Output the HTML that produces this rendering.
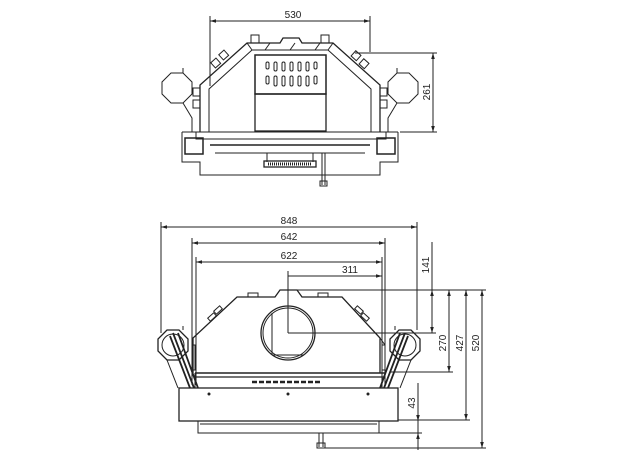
<!DOCTYPE html>
<html><head><meta charset="utf-8"><style>
html,body{margin:0;padding:0;background:#fff;}
svg{display:block;}
text{font-family:"Liberation Sans",sans-serif;font-size:10px;fill:#222;}
</style></head><body>
<svg width="624" height="460" viewBox="0 0 624 460" xmlns="http://www.w3.org/2000/svg">
<defs>
<marker id="a" viewBox="0 0 10 10" refX="10" refY="5" markerWidth="6" markerHeight="6" orient="auto-start-reverse"><path d="M0,2 L10,5 L0,8 z" fill="#222"/></marker>
</defs>
<g fill="none" stroke="#222" stroke-width="1">
<line x1="210" y1="21" x2="370" y2="21" marker-start="url(#a)" marker-end="url(#a)"/>
<line x1="210" y1="16" x2="210" y2="86"/>
<line x1="370" y1="16" x2="370" y2="52"/>
<line x1="433" y1="53" x2="433" y2="132" marker-start="url(#a)" marker-end="url(#a)"/>
<line x1="355" y1="53" x2="437" y2="53"/>
<line x1="400" y1="132" x2="437" y2="132"/>
<path d="M200,132 L200,85 L247,43 L280,43 L283,38 L299,38 L302,43 L333,43 L380,85 L380,132" stroke-width="1.3"/>
<path d="M209,132 L209,89 L252,50 L328,50 L371,89 L371,132"/>
<rect x="255" y="55" width="71" height="39" stroke-width="1.5"/>
<rect x="255" y="94" width="71" height="37" stroke-width="1.3"/>
<line x1="247" y1="43" x2="252" y2="50"/><line x1="333" y1="43" x2="328" y2="50"/>
<line x1="265" y1="50" x2="270" y2="43"/><line x1="290" y1="50" x2="295" y2="43"/><line x1="315" y1="50" x2="320" y2="43"/>
<rect x="251" y="35" width="8" height="8"/><rect x="321" y="35" width="8" height="8"/>
<rect x="220" y="52" width="7" height="7" transform="rotate(-42 223 55)"/>
<rect x="212" y="60" width="7" height="7" transform="rotate(-42 215 63)"/>
<rect x="353" y="52" width="7" height="7" transform="rotate(42 356 55)"/>
<rect x="361" y="60" width="7" height="7" transform="rotate(42 364 63)"/>
<rect x="193" y="88" width="7" height="8"/><rect x="193" y="100" width="7" height="8"/>
<rect x="380" y="88" width="7" height="8"/><rect x="380" y="100" width="7" height="8"/>
<polygon points="171,73 183,73 192,82 192,94 183,103 171,103 162,94 162,82"/>
<polygon points="397,73 409,73 418,82 418,94 409,103 397,103 388,94 388,82"/>
<path d="M183,103 L192,118 L192,132"/><path d="M397,103 L388,118 L388,132"/>
<line x1="183" y1="68" x2="183" y2="73"/><line x1="397" y1="68" x2="397" y2="73"/>
<path d="M182,132 L398,132"/>
<rect x="196" y="132" width="190" height="7"/>
<line x1="205" y1="139" x2="375" y2="139"/>
<line x1="210" y1="145" x2="370" y2="145" stroke-width="1.5"/>
<line x1="215" y1="153" x2="365" y2="153"/>
<path d="M182,132 L182,162 L200,162 L200,175 L380,175 L380,162 L398,162 L398,132"/>
<rect x="185" y="138" width="18" height="16" stroke-width="1.5"/>
<rect x="377" y="138" width="18" height="16" stroke-width="1.5"/>
<line x1="267" y1="153" x2="267" y2="162"/><line x1="313" y1="153" x2="313" y2="162"/>
<rect x="264" y="161" width="52" height="6" stroke-width="1.3"/>
<line x1="268" y1="164" x2="312" y2="164" stroke-dasharray="1 1" stroke-width="3"/>
<line x1="322" y1="153" x2="322" y2="185"/><line x1="325" y1="153" x2="325" y2="185"/>
<rect x="320" y="181" width="7" height="5"/>
<g stroke-width="1">
<rect x="266" y="62" width="3" height="7" rx="1.5"/><rect x="274" y="62" width="3" height="9" rx="1.5"/><rect x="282" y="62" width="3" height="9" rx="1.5"/><rect x="290" y="62" width="3" height="9" rx="1.5"/><rect x="298" y="62" width="3" height="9" rx="1.5"/><rect x="306" y="62" width="3" height="9" rx="1.5"/><rect x="314" y="62" width="3" height="7" rx="1.5"/>
<rect x="266" y="76" width="3" height="8" rx="1.5"/><rect x="274" y="76" width="3" height="10" rx="1.5"/><rect x="282" y="76" width="3" height="10" rx="1.5"/><rect x="290" y="76" width="3" height="10" rx="1.5"/><rect x="298" y="76" width="3" height="10" rx="1.5"/><rect x="306" y="76" width="3" height="10" rx="1.5"/><rect x="314" y="76" width="3" height="8" rx="1.5"/>
</g>
<line x1="161" y1="227" x2="417" y2="227" marker-start="url(#a)" marker-end="url(#a)"/>
<line x1="161" y1="222" x2="161" y2="333"/><line x1="417" y1="222" x2="417" y2="330"/>
<line x1="192" y1="243" x2="385" y2="243" marker-start="url(#a)" marker-end="url(#a)"/>
<line x1="192" y1="238" x2="192" y2="385"/><line x1="385" y1="238" x2="385" y2="385"/>
<line x1="196" y1="262" x2="382" y2="262" marker-start="url(#a)" marker-end="url(#a)"/>
<line x1="196" y1="257" x2="196" y2="385"/><line x1="382" y1="257" x2="382" y2="385"/>
<line x1="288" y1="276" x2="382" y2="276" marker-end="url(#a)"/>
<line x1="288" y1="271" x2="288" y2="333"/>
<line x1="432" y1="242" x2="432" y2="290"/>
<line x1="432" y1="290" x2="432" y2="333" marker-start="url(#a)" marker-end="url(#a)"/>
<line x1="449" y1="290" x2="449" y2="372" marker-start="url(#a)" marker-end="url(#a)"/>
<line x1="466" y1="290" x2="466" y2="420" marker-start="url(#a)" marker-end="url(#a)"/>
<line x1="482" y1="290" x2="482" y2="448" marker-start="url(#a)" marker-end="url(#a)"/>
<line x1="418" y1="383" x2="418" y2="450"/>
<line x1="418" y1="410" x2="418" y2="421" marker-end="url(#a)"/>
<line x1="418" y1="445" x2="418" y2="433" marker-end="url(#a)"/>
<line x1="297" y1="290" x2="486" y2="290"/>
<line x1="288" y1="333" x2="436" y2="333"/>
<line x1="390" y1="372" x2="453" y2="372"/>
<line x1="398" y1="420" x2="470" y2="420"/>
<line x1="379" y1="433" x2="422" y2="433"/>
<line x1="322" y1="448" x2="486" y2="448"/>
<path d="M193,373 L193,338 L237,297 L275,297 L280,290 L297,290 L302,297 L342,297 L380,338 L380,373" stroke-width="1.3"/>
<line x1="380" y1="338" x2="385" y2="345"/>
<circle cx="288" cy="333" r="27" stroke-width="1.3"/>
<circle cx="288" cy="333" r="25"/>
<line x1="272" y1="313" x2="272" y2="355"/><line x1="272" y1="355" x2="304" y2="355"/>
<rect x="248" y="293" width="10" height="4"/><rect x="318" y="293" width="10" height="4"/>
<rect x="208" y="315" width="8" height="4" transform="rotate(-42 212 317)"/>
<rect x="214" y="308" width="8" height="4" transform="rotate(-42 218 310)"/>
<rect x="355" y="308" width="8" height="4" transform="rotate(42 359 310)"/>
<rect x="361" y="315" width="8" height="4" transform="rotate(42 365 317)"/>
<rect x="192" y="345" width="3" height="25"/><rect x="382" y="345" width="3" height="25"/>
<line x1="195" y1="373" x2="385" y2="373" stroke-width="1.5"/>
<line x1="195" y1="377" x2="385" y2="377" stroke-width="1.3"/>
<line x1="195" y1="373" x2="195" y2="388"/><line x1="382" y1="373" x2="382" y2="388"/>
<polygon points="167,330 179,330 188,339 188,351 179,360 167,360 158,351 158,339" stroke-width="1.3"/>
<circle cx="173" cy="345" r="11"/>
<polygon points="399,330 411,330 420,339 420,351 411,360 399,360 390,351 390,339" stroke-width="1.3"/>
<circle cx="405" cy="345" r="11"/>
<path d="M173,333 L194,388 M178,333 L198,388 M170,336 L190,388" stroke-width="1.8"/>
<path d="M405,333 L384,388 M400,333 L380,388 M408,336 L388,388" stroke-width="1.8"/>
<line x1="167" y1="360" x2="178" y2="388"/><line x1="411" y1="360" x2="400" y2="388"/>
<line x1="183" y1="326" x2="183" y2="330"/><line x1="395" y1="326" x2="395" y2="330"/>
<rect x="179" y="388" width="219" height="33" stroke-width="1.3"/>
<rect x="198" y="421" width="181" height="12"/>
<line x1="200" y1="424" x2="377" y2="424"/>
<line x1="319" y1="433" x2="319" y2="447"/><line x1="323" y1="433" x2="323" y2="447"/>
<rect x="317" y="443" width="8" height="5"/>
<line x1="252" y1="382" x2="322" y2="382" stroke-width="2.4" stroke-dasharray="5 2"/>
</g>
<g fill="#222"><circle cx="209" cy="394" r="1.5"/><circle cx="288" cy="394" r="1.5"/><circle cx="368" cy="394" r="1.5"/></g>
<text x="293" y="18" text-anchor="middle">530</text>
<text transform="translate(430,92) rotate(-90)" text-anchor="middle">261</text>
<text x="289" y="224" text-anchor="middle">848</text>
<text x="289" y="240" text-anchor="middle">642</text>
<text x="289" y="259" text-anchor="middle">622</text>
<text x="350" y="273" text-anchor="middle">311</text>
<text transform="translate(429,265) rotate(-90)" text-anchor="middle">141</text>
<text transform="translate(446,343) rotate(-90)" text-anchor="middle">270</text>
<text transform="translate(463,343) rotate(-90)" text-anchor="middle">427</text>
<text transform="translate(479,343) rotate(-90)" text-anchor="middle">520</text>
<text transform="translate(415,403) rotate(-90)" text-anchor="middle">43</text>
</svg>
</body></html>
